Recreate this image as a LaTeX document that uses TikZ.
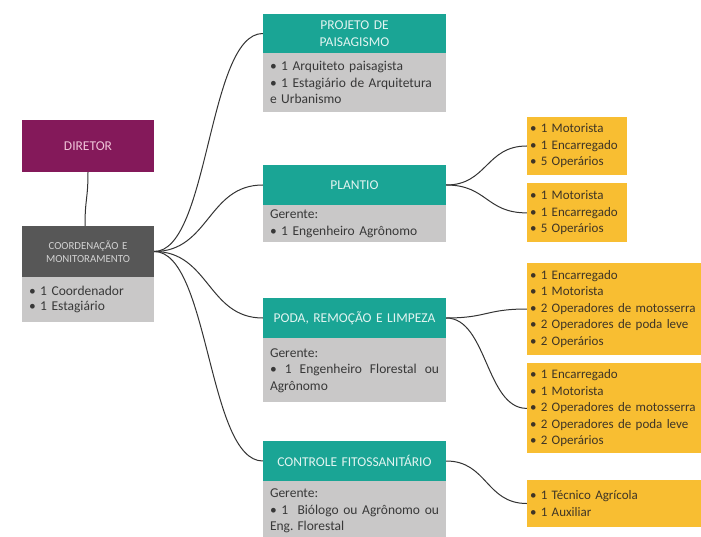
\documentclass[tikz,border=0pt]{standalone}
\usepackage{fontspec}
\setmainfont{Carlito}
\usetikzlibrary{positioning}

\definecolor{verdeTopo}{HTML}{1AA595}
\definecolor{textoTopo}{HTML}{E2F4F1}
\definecolor{cinzaCorpo}{HTML}{C9C8C8}
\definecolor{textoCorpo}{HTML}{383838}
\definecolor{roxoDir}{HTML}{84195A}
\definecolor{textoDir}{HTML}{F0C4D8}
\definecolor{cinzaEsc}{HTML}{575757}
\definecolor{textoCoord}{HTML}{D2D2D2}
\definecolor{amarelo}{HTML}{F8BE32}
\definecolor{textoEquipe}{HTML}{3F3526}
\definecolor{linha}{HTML}{333333}

\tikzset{
    texto/.style={font=\fontsize{13.5}{16.5}\selectfont},
    topo/.style={texto, fill=verdeTopo, text=textoTopo, text width=169pt,
        inner xsep=7pt, inner ysep=0pt, minimum height=40pt, align=center},
    corpo/.style={texto, fill=cinzaCorpo, text=textoCorpo, text width=169pt,
        inner xsep=7pt, inner ysep=0pt, align=justify},
    equipe/.style={font=\fontsize{13}{16.5}\selectfont,
        fill=amarelo, text=textoEquipe, text width=94pt,
        inner xsep=3pt, inner ysep=0pt, align=left},
    ramo/.style={draw=linha, line width=1pt}
}

\begin{document}
\hyphenpenalty=10000
\begin{tikzpicture}[x=1pt, y=-1pt]
    \fill[white] (0,0) rectangle (701,537);
    \useasboundingbox (0,0) rectangle (701,537);

    \node (diretor) [texto, fill=roxoDir, text=textoDir, minimum width=132pt, minimum height=52pt]
        at (88,146) {DIRETOR};
    \node (coord) [fill=cinzaEsc, text=textoCoord, text width=118pt, inner xsep=7pt,
        minimum height=51pt, align=center, font=\fontsize{10.8}{12.5}\selectfont]
        at (88,251.5) {COORDENAÇÃO E\\MONITORAMENTO};
    \node (coordcorpo) [texto, fill=cinzaCorpo, text=textoCorpo, text width=118pt, inner xsep=7pt,
        inner ysep=0pt, minimum height=45pt, align=left, font=\fontsize{13.5}{15}\selectfont,
        below=0pt of coord] {• 1 Coordenador\\• 1 Estagiário};

    \node (projeto) [topo, minimum height=39pt] at (354.5,33.5) {PROJETO DE\\PAISAGISMO};
    \node (projetocorpo) [corpo, minimum height=59pt, align=left, below=0pt of projeto]
        {• 1 Arquiteto paisagista\\• 1 Estagiário de Arquitetura\\e Urbanismo};

    \node (plantio) [topo] at (354.5,185) {PLANTIO};
    \node (plantiocorpo) [corpo, minimum height=37pt, align=left, below=0pt of plantio]
        {Gerente:\\• 1 Engenheiro Agrônomo};

    \node (poda) [topo] at (354.5,318) {PODA, REMOÇÃO E LIMPEZA};
    \node (podacorpo) [corpo, minimum height=64pt, below=0pt of poda]
        {Gerente:\newline • 1 Engenheiro Florestal ou\linebreak Agrônomo};

    \node (controle) [topo] at (354.5,461) {CONTROLE FITOSSANITÁRIO};
    \node (controlecorpo) [corpo, minimum height=59pt, below=0pt of controle]
        {Gerente:\newline • 1 ~Biólogo ou Agrônomo ou\linebreak Eng. Florestal};

    \node (plantioA) [equipe, minimum height=58pt] at (577,146)
        {• 1 Motorista\\• 1 Encarregado\\• 5 Operários};
    \node (plantioB) [equipe, minimum height=59pt, below=8pt of plantioA]
        {• 1 Motorista\\• 1 Encarregado\\• 5 Operários};

    \node (podaA) [equipe, text width=177pt, minimum height=92pt] at (618.5,309)
        {• 1 Encarregado\\• 1 Motorista\\• 2 Operadores de motosserra\\• 2 Operadores de poda leve\\• 2 Operários};
    \node (podaB) [equipe, text width=177pt, minimum height=90pt, below=8pt of podaA]
        {• 1 Encarregado\\• 1 Motorista\\• 2 Operadores de motosserra\\• 2 Operadores de poda leve\\• 2 Operários};

    \node (controleA) [equipe, text width=177pt, minimum height=47pt] at (618.5,503.5)
        {• 1 Técnico Agrícola\\• 1 Auxiliar};

    \draw[ramo] (diretor.south) .. controls +(0,27) and +(0,-27) .. ([xshift=-3pt]coord.north);
    \foreach \alvo in {projeto,plantio,poda,controle}
        \draw[ramo] (coord.east) .. controls +(55,0) and +(-55,0) .. (\alvo.west);
    \foreach \de/\para in {plantio/plantioA,plantio/plantioB,poda/podaA,poda/podaB,controle/controleA}
        \draw[ramo] (\de.east) .. controls +(41,0) and +(-41,0) .. (\para.west);
\end{tikzpicture}
\end{document}
